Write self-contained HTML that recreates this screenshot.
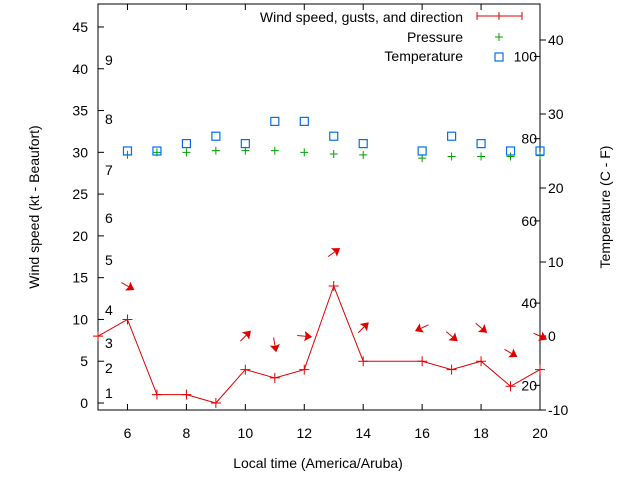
<!DOCTYPE html>
<html><head><meta charset="utf-8"><style>
body{margin:0;background:#fff}
svg{display:block;font-family:"Liberation Sans",sans-serif;font-size:14px}
</style></head><body>
<svg id="c" width="640" height="480" xmlns="http://www.w3.org/2000/svg"></svg>
<script>
const hours=[5,6,7,8,9,10,11,12,13,14,16,17,18,19,20];
const windKt=[8,10,1,1,0,4,3,4,14,5,5,4,5,2,4];
const arrowHours=[6,10,11,12,13,14,16,17,18,19,20];
const arrowKt=[14,8,7,8,18,9,9,8,9,6,8];
const arrowDir=[30,-45,80,5,-35,-45,155,40,40,30,25];
const tempHours=[6,7,8,9,10,11,12,13,14,16,17,18,19,20];
const tempC=[25,25,26,27,26,29,29,27,26,25,27,26,25,25];
const pressHours=[6,7,8,9,10,11,12,13,14,16,17,18,19,20];
const pressVal=[29.7,30,30,30.2,30.2,30.2,30,29.8,29.7,29.3,29.5,29.5,29.5,29.6];
const xTicks=[6,8,10,12,14,16,18,20];
const yTicks=[0,5,10,15,20,25,30,35,40,45];
const cTicks=[-10,0,10,20,30,40];
const fTicks=[20,40,60,80,100];
const bft=[[1,393],[2,368],[3,343],[4,310],[5,260],[6,218],[7,170],[8,119],[9,60]];

const L=98,R=540,T=4,B=410;
const X=h=>L+(h-5)*(R-L)/15;
const Y=v=>403-v*8.356;
const YC=c=>336-c*7.4;
const YF=f=>YC((f-32)*5/9);
const svg=document.getElementById('c');
const NS='http://www.w3.org/2000/svg';
function mk(tag,attrs,parent,txt){const e=document.createElementNS(NS,tag);for(const k in attrs)e.setAttribute(k,attrs[k]);if(txt!==undefined)e.textContent=txt;(parent||svg).appendChild(e);return e;}

const frame=mk('rect',{x:L,y:T,width:R-L,height:B-T,fill:'none',stroke:'#000','stroke-width':1});



xTicks.forEach(t=>{
 const g=mk('g',{});
 
 
 mk('line',{x1:X(t),x2:X(t),y1:B,y2:B-6,stroke:'#000'},g);
 mk('line',{x1:X(t),x2:X(t),y1:T,y2:T+6,stroke:'#000'},g);
 mk('text',{x:X(t),y:B+28,'text-anchor':'middle'},g,t);
});
yTicks.forEach(t=>{
 const g=mk('g',{});
 
 
 mk('line',{x1:L,x2:L+6,y1:Y(t),y2:Y(t),stroke:'#000'},g);
 mk('text',{x:L-10,y:Y(t)+5,'text-anchor':'end'},g,t);
});
cTicks.forEach(t=>{
 const g=mk('g',{});
 
 
 mk('line',{x1:R,x2:R+6,y1:YC(t),y2:YC(t),stroke:'#000'},g);
 mk('text',{x:R+8,y:YC(t)+5,'text-anchor':'start'},g,t);
});
fTicks.forEach(t=>{
 const g=mk('g',{});
 
 
 mk('line',{x1:R,x2:R-6,y1:YF(t),y2:YF(t),stroke:'#000'},g);
 mk('text',{x:R-3,y:YF(t)+5,'text-anchor':'end'},g,t);
});
bft.forEach(b=>{
 const t=mk('text',{x:105,y:b[1]+5},svg,b[0]);
 
 
});

pressHours.forEach((h,i)=>{
 const p=mk('path',{d:`M${X(h)-4} ${Y(pressVal[i])}h8M${X(h)} ${Y(pressVal[i])-4}v8`,stroke:'#00a000','stroke-width':1});
 
 
});
tempHours.forEach((h,i)=>{
 const r=mk('rect',{x:X(h)-4,y:YC(tempC[i])-4,width:8,height:8,fill:'none',stroke:'#0070ee','stroke-width':1.2});
 
 
});
const pts=hours.map((h,i)=>X(h)+','+Y(windKt[i])).join(' ');
const wl=mk('polyline',{points:pts,fill:'none',stroke:'#e00000','stroke-width':1});


hours.forEach((h,i)=>{
 const p=mk('path',{d:`M${X(h)-5} ${Y(windKt[i])}h10M${X(h)} ${Y(windKt[i])-5}v10`,stroke:'#e00000','stroke-width':1});
 
 
});
arrowHours.forEach((h,i)=>{
 const cx=X(h),cy=Y(arrowKt[i]);
 const g=mk('g',{transform:`translate(${cx},${cy}) rotate(${arrowDir[i]})`});
 
 
 mk('line',{x1:-7,y1:0,x2:5,y2:0,stroke:'#e00000','stroke-width':1},g);
 mk('path',{d:'M7 0L1 -4L2 0L1 4Z',fill:'#e00000',stroke:'#e00000'},g);
});

const lg=mk('g',{});


mk('text',{x:463,y:22,'text-anchor':'end'},lg,'Wind speed, gusts, and direction');
mk('path',{d:'M477 16h45M477 12v8M522 12v8M499 12v8',stroke:'#e00000',fill:'none'},lg);
mk('text',{x:463,y:42,'text-anchor':'end'},lg,'Pressure');
mk('path',{d:'M495 37h8M499 33v8',stroke:'#00a000'},lg);
mk('text',{x:463,y:61,'text-anchor':'end'},lg,'Temperature');
mk('rect',{x:495,y:53,width:8,height:8,fill:'none',stroke:'#0070ee','stroke-width':1.2},lg);

const xt=mk('text',{x:318,y:468,'text-anchor':'middle'},svg,'Local time (America/Aruba)');


const yl=mk('text',{x:0,y:0,'text-anchor':'middle',transform:'translate(39,207) rotate(-90)'},svg,'Wind speed (kt - Beaufort)');


const yr=mk('text',{x:0,y:0,'text-anchor':'middle',transform:'translate(610,207) rotate(-90)'},svg,'Temperature (C - F)');


</script>
</body></html>
